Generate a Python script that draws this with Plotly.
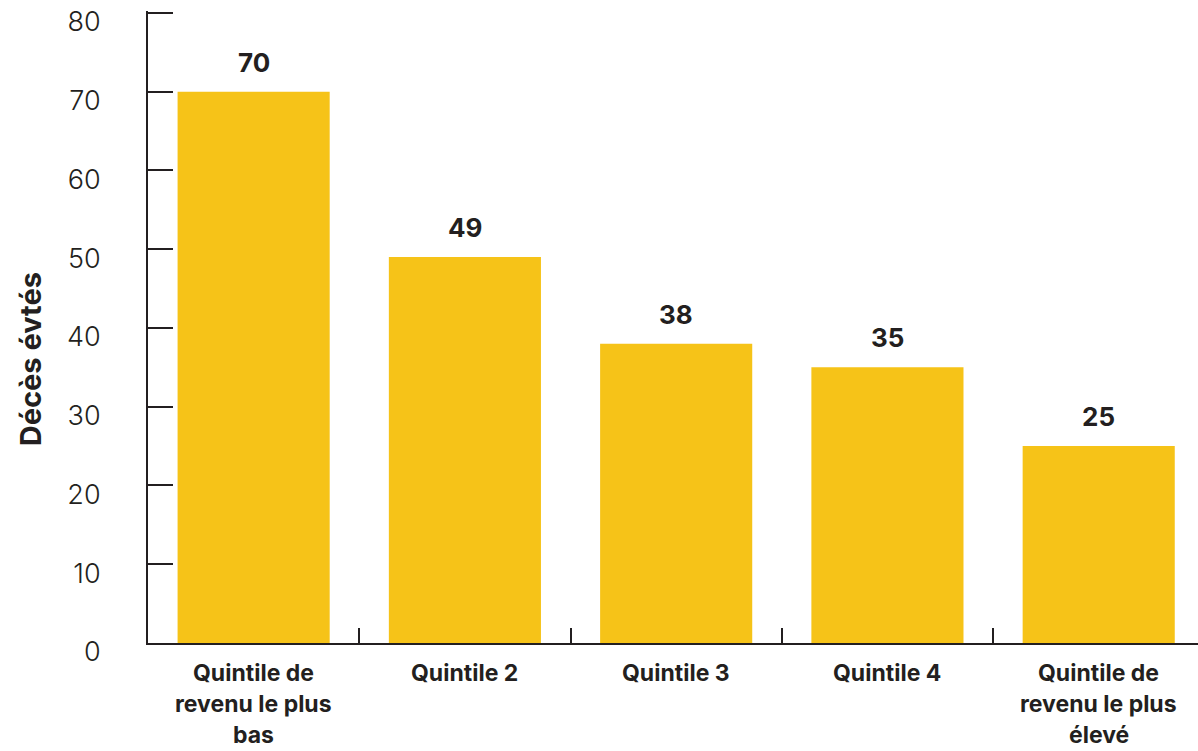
import plotly.graph_objects as go

categories = ["Quintile de revenu le plus bas", "Quintile 2", "Quintile 3", "Quintile 4",
              "Quintile de revenu le plus élevé"]
label_lines = [["Quintile de", "revenu le plus", "bas"], ["Quintile 2"], ["Quintile 3"],
               ["Quintile 4"], ["Quintile de", "revenu le plus", "élevé"]]
values = [70, 49, 38, 35, 25]
y_ticks = [0, 10, 20, 30, 40, 50, 60, 70, 80]
y_title = "Décès évtés"

FONT = "Inter"
DARK = "#231F20"
BAR = "#F6C318"

fig = go.Figure(go.Bar(
    x=categories, y=values, width=0.72, marker=dict(color=BAR, line=dict(width=0)),
    cliponaxis=False,
))

annotations = []
for cat, v in zip(categories, values):
    annotations.append(dict(
        x=cat, xref="x", y=v, yref="y", yanchor="bottom", yshift=12,
        text="<b>" + str(v) + "</b>", showarrow=False,
        font=dict(family=FONT, size=26, color=DARK)))
for cat, lines in zip(categories, label_lines):
    for i, line in enumerate(lines):
        annotations.append(dict(
            x=cat, xref="x", y=0, yref="paper", yanchor="middle", yshift=-30 - 31 * i,
            text="<b>" + line + "</b>", showarrow=False, borderpad=0,
            font=dict(family=FONT, size=23, color=DARK)))
annotations.append(dict(
    x=-118 / 1050, xref="paper", y=0.449, yref="paper", textangle=-90,
    text="<b>" + y_title + "</b>", showarrow=False, xanchor="center", yanchor="middle",
    font=dict(family=FONT, size=29, color=DARK)))

fig.update_layout(
    width=1198, height=751, margin=dict(l=148, r=0, t=11, b=108),
    paper_bgcolor="white", plot_bgcolor="white", showlegend=False,
    bargap=0.28, annotations=annotations,
    font=dict(family=FONT, color=DARK),
)
fig.update_xaxes(
    type="category", range=[-0.5, 4.47], showticklabels=False, tickson="boundaries",
    ticks="inside", ticklen=15, tickwidth=2, tickcolor=DARK,
    showline=True, linecolor=DARK, linewidth=2, showgrid=False, zeroline=False,
)
fig.update_yaxes(
    range=[0, 80.25], tickvals=y_ticks, ticks="inside", ticklen=25, tickwidth=2, tickcolor=DARK,
    showline=True, linecolor=DARK, linewidth=2, showgrid=False, zeroline=False,
    tickfont=dict(family=FONT, size=27, color=DARK, weight=300), ticklabelstandoff=40,
    ticklabelshift=9,
)

fig.write_html("out.html")
